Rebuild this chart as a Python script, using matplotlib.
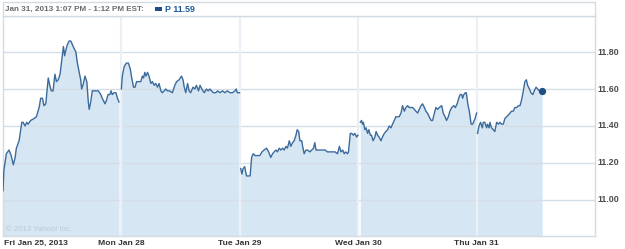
import matplotlib
matplotlib.use("Agg")
import matplotlib.pyplot as plt
import matplotlib.patches as patches
import numpy as np

plt.rcParams["font.family"] = ["Liberation Sans", "DejaVu Sans"]

# Intraday prices for P, 5-day view; minutes counted from the 9:30 open
fri_min = [0, 3, 11, 20, 27, 34, 40, 44, 53, 62, 66, 73, 78, 83, 91, 102, 110, 119, 124, 130,
           135, 141, 149, 154, 159, 165, 171, 176, 182, 188, 196, 199, 203, 207, 212, 218, 223, 226, 234, 240,
           245, 251, 256, 259, 265, 270, 276, 281, 284, 289, 294, 300, 307, 314, 322, 327, 336, 341, 346, 352,
           356, 360, 366, 372, 377, 382]
fri_px = [11.05, 11.16, 11.25, 11.27, 11.24, 11.19, 11.23, 11.28, 11.32, 11.42, 11.42, 11.40, 11.42, 11.41, 11.43, 11.44, 11.45, 11.50, 11.55, 11.55,
          11.51, 11.52, 11.66, 11.62, 11.59, 11.59, 11.68, 11.64, 11.65, 11.68, 11.79, 11.83, 11.78, 11.81, 11.84, 11.86, 11.86, 11.85, 11.82, 11.80,
          11.74, 11.69, 11.65, 11.60, 11.63, 11.67, 11.64, 11.53, 11.49, 11.53, 11.59, 11.59, 11.59, 11.59, 11.57, 11.55, 11.52, 11.54, 11.57, 11.57,
          11.59, 11.57, 11.58, 11.58, 11.55, 11.53]

mon_min = [0, 3, 9, 16, 23, 29, 34, 40, 45, 50, 58, 64, 69, 73, 77, 81, 86, 91, 97, 102,
           108, 113, 119, 124, 130, 135, 141, 146, 152, 159, 168, 176, 182, 190, 198, 203, 207, 212, 218, 223,
           228, 236, 242, 247, 254, 259, 265, 273, 280, 286, 291, 297, 303, 311, 317, 325, 333, 341, 349, 358,
           366, 374, 378, 382, 389]
mon_px = [11.60, 11.67, 11.72, 11.74, 11.74, 11.71, 11.66, 11.61, 11.61, 11.64, 11.64, 11.64, 11.67, 11.66, 11.69, 11.67, 11.69, 11.67, 11.63, 11.64,
          11.62, 11.63, 11.61, 11.63, 11.59, 11.58, 11.59, 11.60, 11.59, 11.59, 11.58, 11.62, 11.64, 11.65, 11.67, 11.65, 11.61, 11.58, 11.63, 11.59,
          11.58, 11.61, 11.60, 11.62, 11.59, 11.62, 11.60, 11.58, 11.60, 11.59, 11.60, 11.59, 11.58, 11.58, 11.59, 11.58, 11.59, 11.58, 11.59, 11.58,
          11.58, 11.59, 11.60, 11.58, 11.58]

tue_min = [3, 7, 11, 16, 22, 29, 34, 39, 44, 50, 58, 66, 73, 80, 88, 95, 102, 108, 113, 119,
           124, 130, 135, 141, 146, 152, 157, 163, 168, 174, 179, 185, 189, 194, 198, 204, 207, 212, 218, 223,
           231, 237, 243, 247, 251, 258, 267, 275, 281, 289, 297, 306, 314, 322, 328, 333, 339, 344, 349, 355,
           358, 364, 369, 374, 379, 385, 389]
tue_px = [11.17, 11.14, 11.17, 11.18, 11.13, 11.13, 11.13, 11.23, 11.25, 11.24, 11.24, 11.24, 11.26, 11.27, 11.28, 11.26, 11.23, 11.25, 11.26, 11.27,
          11.26, 11.28, 11.27, 11.28, 11.27, 11.29, 11.28, 11.32, 11.29, 11.31, 11.32, 11.35, 11.38, 11.37, 11.32, 11.32, 11.29, 11.25, 11.27, 11.27,
          11.26, 11.27, 11.28, 11.31, 11.27, 11.27, 11.27, 11.27, 11.27, 11.26, 11.26, 11.26, 11.26, 11.25, 11.29, 11.26, 11.27, 11.25, 11.26, 11.25,
          11.26, 11.36, 11.36, 11.35, 11.36, 11.34, 11.35]

wed_min = [7, 11, 14, 17, 22, 26, 31, 35, 40, 44, 49, 55, 59, 64, 69, 75, 80, 86, 91, 97,
           102, 108, 113, 119, 124, 130, 135, 141, 146, 152, 157, 163, 168, 174, 179, 185, 190, 196, 201, 207,
           212, 218, 223, 228, 234, 240, 245, 251, 256, 262, 267, 275, 280, 286, 291, 297, 302, 308, 315, 320,
           326, 331, 336, 341, 344, 348, 353, 356, 361, 366, 372, 377, 385, 390]
wed_px = [11.42, 11.43, 11.41, 11.42, 11.38, 11.39, 11.36, 11.38, 11.35, 11.35, 11.32, 11.34, 11.37, 11.35, 11.34, 11.32, 11.34, 11.36, 11.37, 11.38,
          11.40, 11.39, 11.41, 11.43, 11.45, 11.45, 11.45, 11.47, 11.51, 11.48, 11.50, 11.51, 11.50, 11.50, 11.50, 11.49, 11.48, 11.47, 11.49, 11.51,
          11.52, 11.50, 11.48, 11.47, 11.45, 11.43, 11.43, 11.47, 11.50, 11.49, 11.50, 11.51, 11.47, 11.45, 11.43, 11.45, 11.48, 11.50, 11.51, 11.50,
          11.52, 11.55, 11.57, 11.57, 11.55, 11.57, 11.58, 11.58, 11.52, 11.48, 11.41, 11.41, 11.44, 11.47]

thu_min = [3, 8, 13, 19, 22, 27, 33, 36, 41, 44, 49, 55, 60, 66, 72, 77, 82, 88, 93, 99,
           105, 110, 115, 121, 126, 132, 138, 143, 148, 154, 159, 164, 168, 174, 179, 185, 190, 196, 201, 207,
           216]
thu_px = [11.36, 11.40, 11.42, 11.39, 11.42, 11.42, 11.39, 11.41, 11.39, 11.42, 11.39, 11.38, 11.37, 11.42, 11.41, 11.42, 11.41, 11.41, 11.44, 11.45,
          11.46, 11.47, 11.48, 11.48, 11.50, 11.50, 11.51, 11.51, 11.54, 11.59, 11.64, 11.65, 11.62, 11.60, 11.58, 11.57, 11.59, 11.61, 11.60, 11.59,
          11.59]

day_labels = ["Fri Jan 25, 2013", "Mon Jan 28", "Tue Jan 29", "Wed Jan 30", "Thu Jan 31"]
y_ticks = [11.00, 11.20, 11.40, 11.60, 11.80]
session_len = 390.0
last_price = thu_px[-1]

LINE = "#3b6a9c"
FILL = "#d6e6f2"
GRID = "#d5dee7"
FRAME = "#d3dbe3"
TEXT = "#4d4d4d"

W, H = 625, 249
fig = plt.figure(figsize=(W / 100, H / 100), dpi=100)

# plot box: x 3..595, y 16..236 (pixels from top)
ax = fig.add_axes([3 / W, (H - 236) / H, (595 - 3) / W, (236 - 16) / H])
ymin, ymax = 10.805, 11.995

days = [(fri_min, fri_px), (mon_min, mon_px), (tue_min, tue_px), (wed_min, wed_px), (thu_min, thu_px)]
for i, (mins, px) in enumerate(days):
    x = i + np.array(mins) / session_len
    ax.fill_between(x, px, ymin, color=FILL, lw=0, zorder=1)
    ax.plot(x, px, color=LINE, lw=1.0, zorder=3)

# end-of-series marker
ax.plot(4 + thu_min[-1] / session_len, last_price, "o", color="#1d4f86", ms=4.2, zorder=4)

# grid on top of the area
for yv in y_ticks:
    ax.axhline(yv, color=GRID, lw=1.0, zorder=2)
for i in range(1, 5):
    ax.axvline(i, color="#eaf0f5", lw=1.6, zorder=2.5)

ax.set_xlim(0, 5)
ax.set_ylim(ymin, ymax)
ax.set_xticks([])
ax.set_yticks([])
for s in ax.spines.values():
    s.set_color(FRAME)
    s.set_linewidth(1.0)

# right-side price labels
for yv in y_ticks:
    ax.text(5.02, yv, f"{yv:.2f}", ha="left", va="center", fontsize=6.4,
            fontweight="bold", color=TEXT, clip_on=False)

# day labels under the plot
for i, lab in enumerate(day_labels):
    ax.text(i if i else 0.005, ymin - 0.04, lab, ha="left" if i == 0 else "center", va="center",
            fontsize=6.1, fontweight="bold", color="#333333", clip_on=False)

# header strip above the plot
fig.patches.append(patches.Rectangle((3 / W, (H - 16) / H), (595 - 3) / W, 14 / H,
                                     transform=fig.transFigure, facecolor="white",
                                     edgecolor=FRAME, lw=1.0))
fig.text(5 / W, 1 - 9.5 / H, "Jan 31, 2013 1:07 PM - 1:12 PM EST:", ha="left", va="center",
         fontsize=5.9, fontweight="bold", color="#6b6b6b")
fig.patches.append(patches.Rectangle((155 / W, 1 - 11 / H), 7 / W, 3.5 / H,
                                     transform=fig.transFigure, facecolor="#1d4f86", lw=0))
fig.text(165 / W, 1 - 9.5 / H, f"P {last_price:.2f}", ha="left", va="center",
         fontsize=6.4, fontweight="bold", color="#1d5a96")

# watermark
fig.text(6 / W, 1 - 229 / H, "\u00a9 2013 Yahoo! Inc.", ha="left", va="center",
         fontsize=5.6, color="#b9c9d6")

fig.savefig("out.png", dpi=100)
